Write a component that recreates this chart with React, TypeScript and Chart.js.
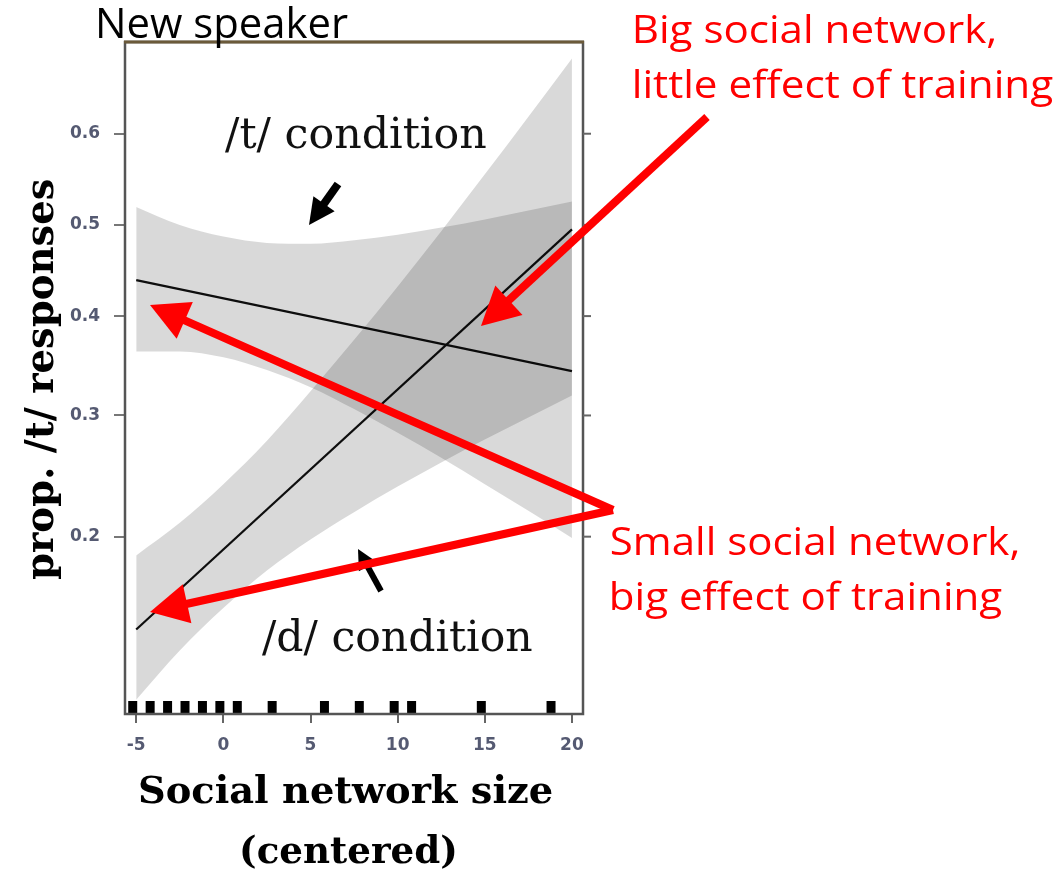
import React, { useEffect, useRef } from 'react';
import { Chart, registerables } from 'chart.js';

Chart.register(...registerables);

// ---- data (probabilities) ----
const xTickValues = [-5, 0, 5, 10, 15, 20];
const yTickProbs = [0.2, 0.3, 0.4, 0.5, 0.6];

const bandX = [-5, -2.5, 0, 2.5, 5, 7.5, 10, 12.5, 15, 17.5, 20];
const tUpper = [0.52, 0.5, 0.487, 0.48, 0.479, 0.483, 0.489, 0.497, 0.506, 0.516, 0.526];
const tLower = [0.363, 0.363, 0.357, 0.344, 0.327, 0.306, 0.284, 0.262, 0.24, 0.219, 0.199];
const dUpper = [0.187, 0.21, 0.24, 0.277, 0.323, 0.375, 0.432, 0.493, 0.556, 0.618, 0.677];
const dLower = [0.108, 0.131, 0.154, 0.177, 0.198, 0.218, 0.238, 0.258, 0.278, 0.298, 0.319];

const lineX = [-5, 20];
const tLine = [0.439, 0.343];
const dLine = [0.142, 0.495];

const rugX = [-5.2, -4.2, -3.2, -2.2, -1.2, -0.2, 0.8, 2.8, 5.8, 7.8, 9.8, 10.8, 14.8, 18.8];

// axis ranges
const xMin = -5.643;
const xMax = 20.634;
const yMinLogit = -2.1748;
const yMaxLogit = 0.8133;

const logit = (p: number) => Math.log(p / (1 - p));
const toPts = (xs: number[], ps: number[]) => xs.map((x, i) => ({ x, y: logit(ps[i]) }));

const BAND = 'rgba(0,0,0,0.15)';
const NONE = 'rgba(0,0,0,0)';

function inkText(
  ctx: CanvasRenderingContext2D,
  text: string,
  left: number,
  baseline: number,
  width: number,
  font: string,
  color: string
) {
  ctx.save();
  ctx.font = font;
  ctx.fillStyle = color;
  ctx.textAlign = 'left';
  ctx.textBaseline = 'alphabetic';
  const m = ctx.measureText(text);
  const ink = m.actualBoundingBoxLeft + m.actualBoundingBoxRight;
  const sx = width / ink;
  ctx.translate(left, baseline);
  ctx.scale(sx, 1);
  ctx.fillText(text, m.actualBoundingBoxLeft, 0);
  ctx.restore();
}

function arrow(
  ctx: CanvasRenderingContext2D,
  x1: number,
  y1: number,
  x2: number,
  y2: number,
  w: number,
  headLen: number,
  headHalf: number,
  color: string
) {
  const ang = Math.atan2(y2 - y1, x2 - x1);
  const c = Math.cos(ang);
  const s = Math.sin(ang);
  const bx = x2 - c * headLen;
  const by = y2 - s * headLen;
  ctx.save();
  ctx.strokeStyle = color;
  ctx.fillStyle = color;
  ctx.lineWidth = w;
  ctx.lineCap = 'butt';
  ctx.beginPath();
  ctx.moveTo(x1, y1);
  ctx.lineTo(bx + c * 2, by + s * 2);
  ctx.stroke();
  ctx.beginPath();
  ctx.moveTo(x2, y2);
  ctx.lineTo(bx + s * headHalf, by - c * headHalf);
  ctx.lineTo(bx - s * headHalf, by + c * headHalf);
  ctx.closePath();
  ctx.fill();
  ctx.restore();
}

const annotations = {
  id: 'annotations',
  afterDraw(chart: any) {
    const { ctx, chartArea: a, scales } = chart;
    const y = scales.y;
    ctx.save();
    // frame
    ctx.strokeStyle = '#555';
    ctx.lineWidth = 2.5;
    ctx.strokeRect(a.left, a.top, a.right - a.left, a.bottom - a.top);
    ctx.strokeStyle = '#6b5a3a';
    ctx.lineWidth = 3;
    ctx.beginPath();
    ctx.moveTo(a.left - 1, a.top);
    ctx.lineTo(a.right + 1, a.top);
    ctx.stroke();
    // right-side ticks
    ctx.strokeStyle = '#666';
    ctx.lineWidth = 2;
    yTickProbs.forEach((p) => {
      const py = y.getPixelForValue(logit(p));
      ctx.beginPath();
      ctx.moveTo(a.right, py);
      ctx.lineTo(a.right + 8, py);
      ctx.stroke();
    });
    ctx.restore();

    const sans = '"Open Sans", "Noto Sans", sans-serif';
    const serif = '"DejaVu Serif", serif';

    // title
    inkText(ctx, 'New speaker', 99, 38, 249, `42px ${sans}`, '#000');

    // condition labels
    inkText(ctx, '/t/ condition', 225, 148, 261, `43px ${serif}`, '#111');
    inkText(ctx, '/d/ condition', 262, 651, 270, `43px ${serif}`, '#111');

    // axis titles
    inkText(ctx, 'Social network size', 140, 803, 412, `bold 38px ${serif}`, '#000');
    inkText(ctx, '(centered)', 242, 863, 213, `bold 38px ${serif}`, '#000');
    ctx.save();
    ctx.translate(53, 580);
    ctx.rotate(-Math.PI / 2);
    inkText(ctx, 'prop. /t/ responses', 0, 0, 400, `bold 40px ${serif}`, '#000');
    ctx.restore();

    // black arrows
    arrow(ctx, 338, 184, 309, 225, 8, 26, 13, '#000');
    arrow(ctx, 381, 591, 358, 549, 6, 20, 10, '#000');

    // red arrows
    const RED = '#ff0000';
    arrow(ctx, 707, 117, 481, 326, 8, 38, 20, RED);
    arrow(ctx, 613, 510, 150, 305, 8, 38, 20, RED);
    arrow(ctx, 613, 510, 150, 612, 8, 38, 20, RED);

    // red annotation text
    inkText(ctx, 'Big social network,', 635, 43, 360, `39px ${sans}`, RED);
    inkText(ctx, 'little effect of training', 635, 98, 418, `39px ${sans}`, RED);
    inkText(ctx, 'Small social network,', 612, 555, 406, `39px ${sans}`, RED);
    inkText(ctx, 'big effect of training', 612, 610, 390, `39px ${sans}`, RED);
  },
};

export default function App() {
  const ref = useRef<HTMLCanvasElement>(null);

  useEffect(() => {
    document.body.style.margin = '0';
    const canvas = ref.current;
    if (!canvas) return;

    const bandCommon = {
      type: 'line' as const,
      pointRadius: 0,
      borderWidth: 1,
      borderColor: NONE,
      cubicInterpolationMode: 'monotone' as const,
    };

    const tickFont = { family: '"DejaVu Sans", sans-serif', size: 17, weight: 'bold' as const };

    const chart = new Chart(canvas, {
      type: 'line',
      data: {
        datasets: [
          { ...bandCommon, label: 'd upper', data: toPts(bandX, dUpper), fill: false },
          { ...bandCommon, label: 'd lower', data: toPts(bandX, dLower), fill: '-1', backgroundColor: BAND },
          { ...bandCommon, label: 't upper', data: toPts(bandX, tUpper), fill: false },
          { ...bandCommon, label: 't lower', data: toPts(bandX, tLower), fill: '-1', backgroundColor: BAND },
          {
            type: 'line',
            label: '/t/ condition',
            data: toPts(lineX, tLine),
            borderColor: '#111',
            borderWidth: 2.2,
            pointRadius: 0,
            fill: false,
          },
          {
            type: 'line',
            label: '/d/ condition',
            data: toPts(lineX, dLine),
            borderColor: '#111',
            borderWidth: 2.2,
            pointRadius: 0,
            fill: false,
          },
          {
            type: 'scatter',
            label: 'rug',
            data: rugX.map((x) => ({ x, y: yMinLogit })),
            pointStyle: 'line',
            rotation: 90,
            pointRadius: 13,
            borderWidth: 9,
            borderColor: '#000',
            backgroundColor: '#000',
            clip: 0,
          } as any,
        ],
      },
      options: {
        responsive: false,
        animation: false,
        devicePixelRatio: 1,
        layout: { padding: { left: 0, top: 42, right: 1058 - 583, bottom: 0 } },
        plugins: {
          legend: { display: false },
          tooltip: { enabled: false },
        },
        scales: {
          x: {
            type: 'linear',
            min: xMin,
            max: xMax,
            afterBuildTicks: (s: any) => {
              s.ticks = xTickValues.map((v) => ({ value: v }));
            },
            afterFit: (s: any) => {
              s.height = 869 - 714;
            },
            ticks: {
              font: tickFont,
              color: '#555a72',
              padding: 12,
              maxRotation: 0,
              callback: (v: any) => String(v),
            },
            grid: { drawOnChartArea: false, drawTicks: true, tickLength: 9, color: '#666', lineWidth: 2 },
            border: { display: false },
          },
          y: {
            type: 'linear',
            min: yMinLogit,
            max: yMaxLogit,
            afterBuildTicks: (s: any) => {
              s.ticks = yTickProbs.map((p) => ({ value: logit(p) }));
            },
            afterFit: (s: any) => {
              s.width = 125;
            },
            ticks: {
              font: tickFont,
              color: '#555a72',
              padding: 14,
              callback: (_v: any, i: number) => yTickProbs[i].toFixed(1),
            },
            grid: { drawOnChartArea: false, drawTicks: true, tickLength: 11, color: '#777', lineWidth: 2 },
            border: { display: false },
          },
        },
      },
      plugins: [annotations],
    } as any);

    return () => chart.destroy();
  }, []);

  return (
    <canvas
      ref={ref}
      width={1058}
      height={869}
      style={{ display: 'block', width: '1058px', height: '869px' }}
    />
  );
}
